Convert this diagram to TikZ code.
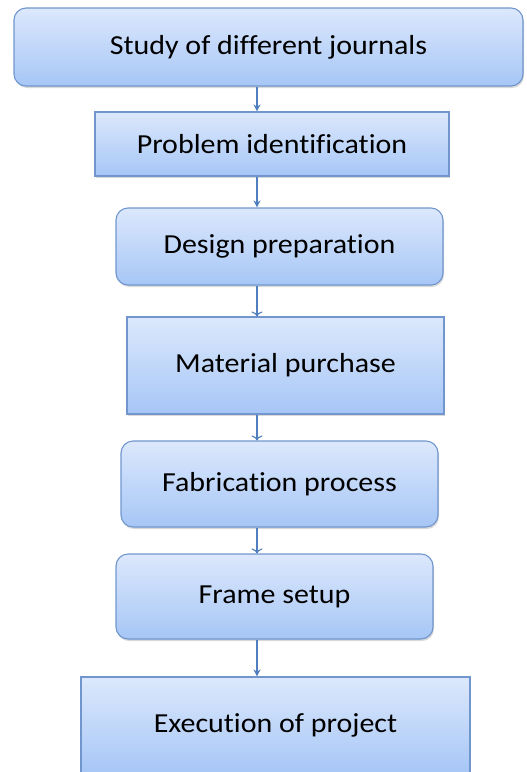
\documentclass[tikz,border=0pt]{standalone}
\usepackage{fontspec}
\setmainfont{Carlito}[FakeStretch=1.09,RawFeature={-liga}]
\usetikzlibrary{shadows,arrows.meta}
\definecolor{boxtop}{HTML}{DCE8FC}
\definecolor{boxbot}{HTML}{A6C6F6}
\definecolor{boxline}{HTML}{7096CD}
\definecolor{arrline}{HTML}{4F7FBF}
\begin{document}
\begin{tikzpicture}[x=1pt,y=-1pt,
    stage/.style={draw=boxline, line width=1.1pt, top color=boxtop, bottom color=boxbot,
      font=\fontsize{27.5}{33}\selectfont, inner sep=0pt,
      drop shadow={shadow xshift=1pt,shadow yshift=-2pt,opacity=0.3}},
    roundstage/.style={stage, rounded corners=12pt},
    flow/.style={draw=arrline, line width=1.1pt, -{Stealth[length=7pt,width=7pt]}},
    openflow/.style={draw=arrline, line width=1.1pt, -{To[length=5pt,width=11pt]}}]
        \useasboundingbox (0,0) rectangle (527,772);
        \node[roundstage, minimum width=509pt, minimum height=78pt] (A) at (268.5,47) {Study of different journals};
        \node[stage, minimum width=354pt, minimum height=64pt] (B) at (272,144) {Problem identification};
        \node[roundstage, minimum width=327pt, minimum height=77pt] (C) at (279.5,246.5) {Design preparation};
        \node[stage, minimum width=317pt, minimum height=97pt] (D) at (285.5,365.5) {Material purchase};
        \node[roundstage, minimum width=317pt, minimum height=86pt] (E) at (279.5,484) {Fabrication process};
        \node[roundstage, minimum width=317pt, minimum height=85pt] (F) at (274.5,596.5) {Frame setup};
        \node[stage, minimum width=389pt, minimum height=97pt] (G) at (275.5,725.5) {Execution of project};
        \coordinate (X) at (257,0);

        \draw[flow] (A.south -| X) -- (B.north -| X);
        \draw[flow] (B.south -| X) -- (C.north -| X);
        \draw[openflow] (C.south -| X) -- (D.north -| X);
        \draw[openflow] (D.south -| X) -- (E.north -| X);
        \draw[openflow] (E.south -| X) -- (F.north -| X);
        \draw[flow] (F.south -| X) -- (G.north -| X);
      \end{tikzpicture}
\end{document}
